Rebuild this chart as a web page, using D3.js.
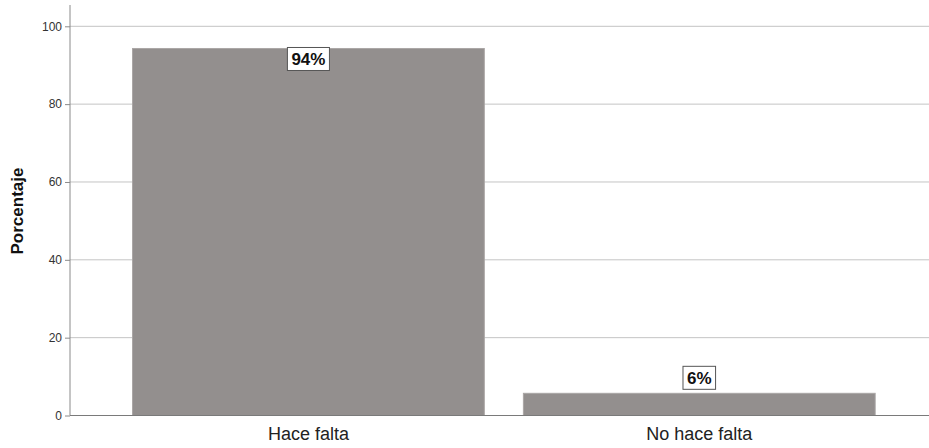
<!DOCTYPE html>
<html>
<head>
<meta charset="utf-8">
<script src="https://cdn.jsdelivr.net/npm/d3@7"></script>
<style>
  body { margin: 0; background: #fff; }
  svg { display: block; font-family: Arial, "Liberation Sans", sans-serif; }
</style>
</head>
<body>
<main></main>
<script>
var w = 929;
var h = 448;

// data
var categories = ["Hace falta", "No hace falta"];
var values = [94.3, 5.7];
var labels = ["94%", "6%"];
var yTicks = [0, 20, 40, 60, 80, 100];

var svg = d3.select("main").append("svg").attr("width", w).attr("height", h);

// scales
var xScale = d3.scaleBand()
  .domain(categories)
  .range([70, 937.7])
  .paddingInner(0.1)
  .paddingOuter(0.16);

var yScale = d3.scaleLinear()
  .domain([0, 100])
  .range([415.5, 26.3]);

// gridlines
svg.append("g")
  .selectAll("line")
  .data(yTicks.filter(function (d) { return d > 0; }))
  .enter()
  .append("line")
  .attr("x1", 70)
  .attr("x2", w)
  .attr("y1", function (d) { return yScale(d); })
  .attr("y2", function (d) { return yScale(d); })
  .attr("stroke", "#c4c4c4")
  .attr("stroke-width", 1);

// bars
svg.append("g")
  .selectAll("rect")
  .data(values)
  .enter()
  .append("rect")
  .attr("x", function (d, i) { return xScale(categories[i]); })
  .attr("y", function (d) { return yScale(d); })
  .attr("width", xScale.bandwidth())
  .attr("height", function (d) { return yScale(0) - yScale(d); })
  .attr("fill", "#938f8e")
  .attr("stroke", "#aaa6a5")
  .attr("stroke-width", 1);

// y axis
var yAxis = d3.axisLeft(yScale)
  .tickValues(yTicks)
  .tickSize(5)
  .tickPadding(3);

var gy = svg.append("g")
  .attr("transform", "translate(70,0)")
  .call(yAxis);
gy.select(".domain").remove();
gy.selectAll(".tick line").attr("stroke", "#8a8a8a");
gy.selectAll(".tick text")
  .attr("font-size", "12px")
  .attr("font-family", "Arial, 'Liberation Sans', sans-serif")
  .attr("fill", "#333");
gy.append("line")
  .attr("x1", 0).attr("x2", 0)
  .attr("y1", 5).attr("y2", yScale(0))
  .attr("stroke", "#8a8a8a");

// x axis baseline
svg.append("line")
  .attr("x1", 70).attr("x2", w)
  .attr("y1", yScale(0)).attr("y2", yScale(0))
  .attr("stroke", "#7a7a7a")
  .attr("stroke-width", 1.2);

// x labels
svg.append("g")
  .selectAll("text")
  .data(categories)
  .enter()
  .append("text")
  .attr("x", function (d) { return xScale(d) + xScale.bandwidth() / 2; })
  .attr("y", 440)
  .attr("text-anchor", "middle")
  .attr("font-size", "18px")
  .attr("fill", "#222")
  .text(function (d) { return d; });

// y axis title
svg.append("text")
  .attr("transform", "rotate(-90)")
  .attr("x", -211)
  .attr("y", 23)
  .attr("text-anchor", "middle")
  .attr("font-size", "17px")
  .attr("font-weight", "bold")
  .attr("fill", "#111")
  .text("Porcentaje");

// value labels with boxes, centred on each bar
var boxH = 23;
var labelGroups = svg.append("g")
  .selectAll("g")
  .data(values)
  .enter()
  .append("g")
  .attr("transform", function (d, i) {
    var cx = xScale(categories[i]) + xScale.bandwidth() / 2;
    var top = yScale(d);
    // inside the bar if tall enough, otherwise above it
    var y = (yScale(0) - top > 40) ? top - 1 : top - boxH - 4;
    return "translate(" + cx + "," + y + ")";
  });

labelGroups.append("text")
  .attr("x", 0)
  .attr("y", boxH / 2 + 6)
  .attr("text-anchor", "middle")
  .attr("font-size", "17px")
  .attr("font-weight", "bold")
  .attr("fill", "#111")
  .text(function (d, i) { return labels[i]; });

labelGroups.each(function () {
  var g = d3.select(this);
  var bb = g.select("text").node().getBBox();
  g.insert("rect", "text")
    .attr("x", bb.x - 4)
    .attr("y", 0)
    .attr("width", bb.width + 8)
    .attr("height", boxH)
    .attr("fill", "#fff")
    .attr("stroke", "#555")
    .attr("stroke-width", 1);
});
</script>
</body>
</html>
